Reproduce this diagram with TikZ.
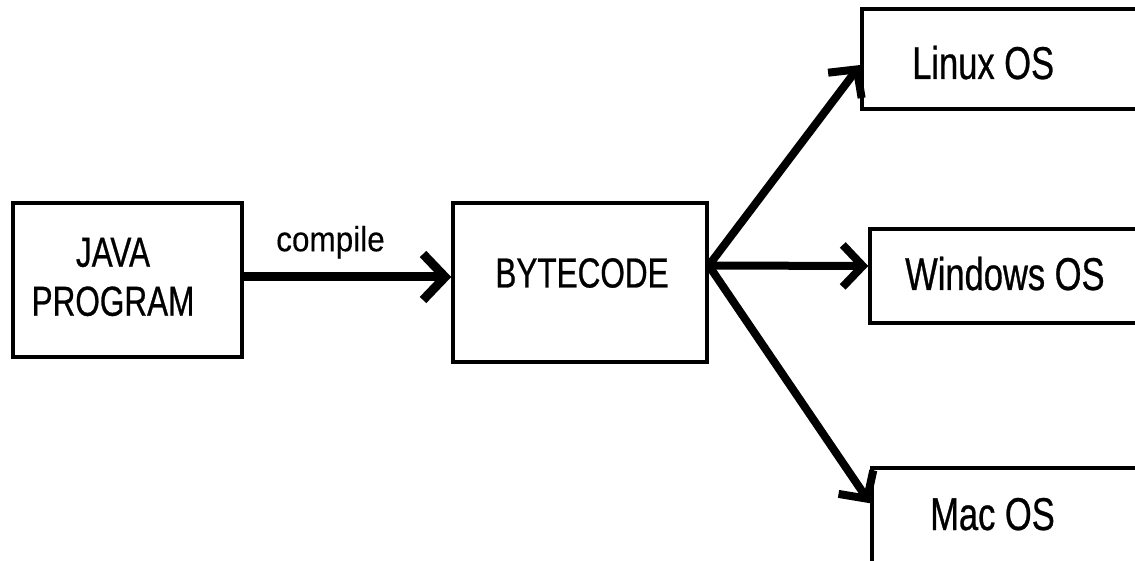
\documentclass[tikz,border=0pt]{standalone}
\usepackage{fontspec}
\setmainfont{Liberation Sans}
\newfontfamily\narrowfont{Liberation Sans}[FakeStretch=0.75,FakeBold=0.6]
\newfontfamily\compfont{Liberation Sans}[FakeStretch=0.9,FakeBold=0.3]
\usetikzlibrary{arrows.meta}
\tikzset{
  box/.style={draw=black, line width=3.5pt, fill=white, inner sep=0pt},
  lbl/.style={inner sep=0pt, anchor=base west, font=\narrowfont\fontsize{46}{50}\selectfont},
  conn/.style={line width=8pt, -{Straight Barb[length=20pt,width=42pt]}}
}
\begin{document}
\begin{tikzpicture}[x=1pt,y=-1pt]
\clip (0,0) rectangle (1135,561);
\fill[white] (0,0) rectangle (1135,561);
% boxes
\node[box, minimum width=229pt, minimum height=154pt] (java) at (127.5,280) {};
\node[box, minimum width=254pt, minimum height=159pt] (byte) at (580,282.5) {};
\node[box, minimum width=278pt, minimum height=100pt] (linux) at (1001,59) {};
\node[box, minimum width=270pt, minimum height=94pt] (win) at (1005,276) {};
\node[box, minimum width=268pt, minimum height=112pt] (mac) at (1006,524) {};
% texts
\node[inner sep=0pt, align=center, font=\narrowfont\fontsize{42}{49}\selectfont] (javat) at (113,277) {JAVA\\PROGRAM};
\node[inner sep=0pt, font=\narrowfont\fontsize{42}{46}\selectfont] (bytet) at (582,273) {BYTECODE};
\node[lbl] (linuxt) at (912,79) {Linux OS};
\node[lbl] (wint) at (905,290) {Windows OS};
\node[lbl] (mact) at (930,530) {Mac OS};
% connectors
\draw[line width=9pt, -{Straight Barb[length=22pt,width=46pt]}] ([yshift=3pt]java.east) -- ([yshift=5.5pt]byte.west)
  node[midway, above=14pt, xshift=-17pt, inner sep=0pt, font=\compfont\fontsize{35}{38}\selectfont] (comp) {compile};
\coordinate (src) at ([yshift=17pt]byte.east);
\draw[conn] (src) -- ([yshift=-6pt]linux.west);
\draw[conn] (src) -- ([yshift=10pt]win.west);
\draw[conn] (src) -- ([yshift=-37pt]mac.north west);
\end{tikzpicture}
\end{document}
